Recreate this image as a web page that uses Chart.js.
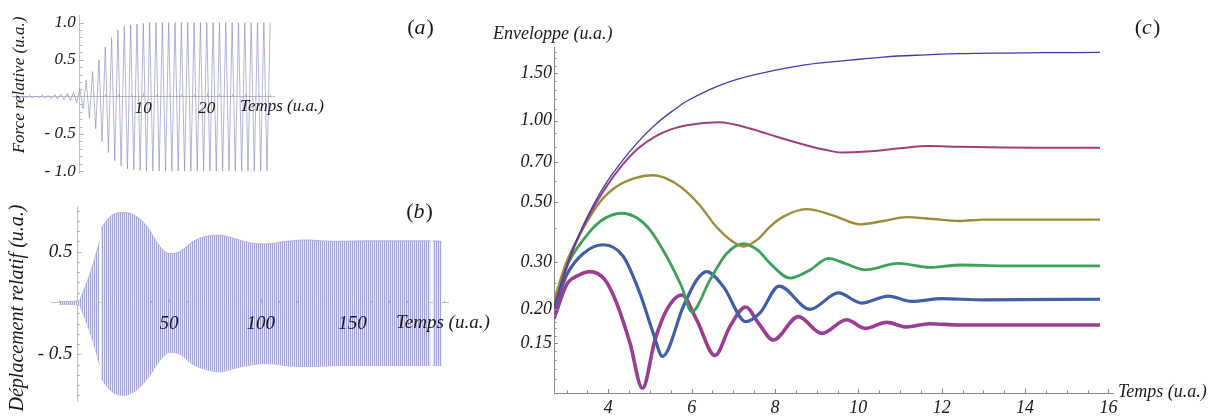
<!DOCTYPE html>
<html>
<head>
<meta charset="utf-8">
<script src="https://cdn.jsdelivr.net/npm/chart.js@4.4.1/dist/chart.umd.min.js"></script>
<style>
  html, body { margin: 0; padding: 0; background: #fff; }
  body { width: 1222px; height: 418px; position: relative; overflow: hidden; }
  canvas { position: absolute; }
  #forceChart { left: 0; top: 0; }
  #dispChart { left: 0; top: 190px; }
  #envChart { left: 470px; top: 0; }
</style>
</head>
<body>
<canvas id="forceChart" width="460" height="190"></canvas>
<canvas id="dispChart" width="520" height="228"></canvas>
<canvas id="envChart" width="752" height="418"></canvas>
<script>
// (a) force relative: successive peaks of the drive, one every half period
const forceT = [-10.5, -10, -9.5, -9, -8.5, -8, -7.5, -7, -6.5, -6, -5.5, -5, -4.5, -4, -3.5, -3, -2.5, -2, -1.5, -1,
  -0.5, 0, 0.5, 1, 1.5, 2, 2.5, 3, 3.5, 4, 4.5, 5, 5.5, 6, 6.5, 7, 7.5, 8, 8.5, 9, 9.5, 10,
  10.5, 11, 11.5, 12, 12.5, 13, 13.5, 14, 14.5, 15, 15.5, 16, 16.5, 17, 17.5, 18, 18.5, 19, 19.5, 20,
  20.5, 21, 21.5, 22, 22.5, 23, 23.5, 24, 24.5, 25, 25.5, 26, 26.5, 27, 27.5, 28, 28.5, 29, 29.5, 30];
const forceV = [-0.005, 0.005, -0.006, 0.006, -0.007, 0.008, -0.009, 0.01, -0.012, 0.014, -0.016, 0.02, -0.022, 0.025, -0.03, 0.035, -0.04, 0.045, -0.05, 0.06,
  -0.08, 0.11, -0.16, 0.22, -0.29, 0.34, -0.43, 0.50, -0.60, 0.67, -0.75, 0.80, -0.86, 0.90, -0.93, 0.95, -0.97, 0.97, -0.98, 0.98, -0.99, 0.99,
  -1, 1, -1, 1, -1, 1, -1, 1, -1, 1, -1, 1, -1, 1, -1, 1, -1, 1, -1, 1,
  -1, 1, -1, 1, -1, 1, -1, 1, -1, 1, -1, 1, -1, 1, -1, 1, -1, 1, -1, 1];
const forceXTicks = [10, 20];
const forceYTicks = [-1, -0.5, 0.5, 1];

// (b) déplacement relatif: envelope of the dense oscillation (null = thin white gap)
const dispT = [-9.9, -5, 0.4, 4.1, 8.6, 12.1, 12.5, 12.9, 15.9, 19.5, 25, 30.4, 37.7, 45, 50.5, 55.9, 63.2, 70.5, 77.7, 85, 95.9, 103.2, 114, 125, 139.6, 157.7, 175.9, 192.6, 193.2, 193.8, 198.7];
const dispUpper = [0.015, 0.015, 0.02, 0.15, 0.38, 0.60, null, 0.72, 0.80, 0.86, 0.88, 0.86, 0.75, 0.55, 0.48, 0.50, 0.60, 0.65, 0.66, 0.63, 0.58, 0.575, 0.60, 0.614, 0.60, 0.605, 0.605, 0.605, null, 0.605, 0.60];
const dispLower = [-0.015, -0.015, -0.02, -0.15, -0.38, -0.60, null, -0.73, -0.81, -0.87, -0.90, -0.87, -0.75, -0.56, -0.48, -0.50, -0.60, -0.65, -0.67, -0.64, -0.60, -0.59, -0.61, -0.62, -0.61, -0.61, -0.61, -0.61, null, -0.61, -0.61];
const dispXTicks = [50, 100, 150];
const dispYTicks = [-0.5, 0.5];

// (c) enveloppes, one curve per setting
const env1T = [2.7, 3.0, 3.2, 3.52, 3.92, 4.32, 4.72, 5.12, 5.52, 5.92, 6.72, 7.52, 8.72, 9.8, 10.6, 11.5, 12.4, 13.5, 14.5, 15.8];
const env1V = [0.205, 0.29, 0.35, 0.448, 0.578, 0.705, 0.836, 0.964, 1.08, 1.19, 1.36, 1.48, 1.61, 1.675, 1.72, 1.75, 1.77, 1.78, 1.785, 1.79];
const env2T = [2.7, 3.0, 3.2, 3.52, 3.92, 4.32, 4.72, 5.12, 5.52, 5.92, 6.64, 7.52, 8.0, 8.72, 9.2, 9.6, 10.2, 11.0, 11.7, 12.4, 13.5, 14.5, 15.8];
const env2V = [0.20, 0.285, 0.345, 0.44, 0.56, 0.68, 0.79, 0.873, 0.93, 0.964, 0.986, 0.924, 0.875, 0.813, 0.78, 0.762, 0.768, 0.79, 0.805, 0.80, 0.795, 0.794, 0.794];
const env3T = [2.7, 3.0, 3.4, 3.8, 4.2, 4.6, 5.08, 5.4, 5.76, 6.2, 6.56, 7.0, 7.25, 7.6, 7.88, 8.2, 8.76, 9.4, 10.04, 10.6, 11.16, 11.8, 12.44, 13.0, 14.0, 15.8];
const env3V = [0.217, 0.30, 0.40, 0.50, 0.57, 0.61, 0.628, 0.61, 0.565, 0.485, 0.41, 0.355, 0.342, 0.365, 0.405, 0.441, 0.470, 0.445, 0.413, 0.425, 0.439, 0.432, 0.425, 0.430, 0.430, 0.430];
const env4T = [2.7, 3.0, 3.4, 3.8, 4.32, 4.7, 5.0, 5.4, 5.76, 6.0, 6.44, 6.84, 7.25, 7.6, 7.88, 8.36, 8.84, 9.28, 9.7, 10.16, 10.96, 11.72, 12.44, 13.5, 15.8];
const env4V = [0.211, 0.288, 0.362, 0.423, 0.454, 0.435, 0.394, 0.314, 0.243, 0.196, 0.257, 0.322, 0.350, 0.330, 0.296, 0.261, 0.280, 0.309, 0.295, 0.280, 0.296, 0.286, 0.292, 0.290, 0.290];
const env5T = [2.7, 3.0, 3.4, 3.88, 4.36, 4.76, 5.08, 5.3, 5.8, 6.12, 6.36, 6.76, 7.3, 7.64, 8.1, 8.84, 9.52, 10.08, 10.72, 11.28, 12.0, 13.0, 15.8];
const env5V = [0.199, 0.268, 0.322, 0.347, 0.314, 0.229, 0.163, 0.134, 0.205, 0.257, 0.276, 0.243, 0.180, 0.194, 0.244, 0.200, 0.230, 0.211, 0.224, 0.214, 0.219, 0.217, 0.218];
const env6T = [2.7, 3.0, 3.3, 3.56, 3.92, 4.2, 4.52, 4.82, 5.12, 5.4, 5.76, 6.12, 6.56, 6.92, 7.3, 7.6, 7.96, 8.56, 9.12, 9.72, 10.16, 10.68, 11.16, 11.7, 12.44, 13.5, 15.8];
const env6V = [0.185, 0.247, 0.268, 0.276, 0.257, 0.211, 0.150, 0.102, 0.154, 0.199, 0.226, 0.183, 0.135, 0.173, 0.204, 0.178, 0.154, 0.188, 0.163, 0.183, 0.170, 0.179, 0.172, 0.177, 0.175, 0.175, 0.175];
const envXTicks = [4, 6, 8, 10, 12, 14, 16];
const envYTicks = [0.15, 0.2, 0.3, 0.5, 0.7, 1.0, 1.5];
const envYMinor = [0.11, 0.12, 0.13, 0.14, 0.16, 0.17, 0.18, 0.19, 0.25, 0.4, 0.6, 0.8, 0.9, 1.1, 1.2, 1.3, 1.4, 1.6, 1.7, 1.8];

const SERIF = "'Liberation Serif', 'Times New Roman', serif";
const tickFont = size => ({ family: SERIF, size: size, style: 'italic' });
const pts = (xs, ys) => xs.map((x, i) => ({ x: x, y: ys[i] }));
const range = (a, b, step, skip) => {
  const out = [];
  for (let v = a; v <= b + 1e-9; v += step) {
    const r = Math.round(v * 1000) / 1000;
    if (!skip.some(s => Math.abs(s - r) < 1e-6)) out.push(r);
  }
  return out;
};

// small inward tick marks, Mathematica style
const tickMarks = {
  id: 'tickMarks',
  afterDatasetsDraw(chart, args, opts) {
    const { x, y } = chart.scales;
    const ctx = chart.ctx;
    const x0 = opts.centered ? x.getPixelForValue(0) : chart.chartArea.left;
    const y0 = opts.centered ? y.getPixelForValue(0) : chart.chartArea.bottom;
    ctx.save();
    ctx.strokeStyle = opts.color;
    ctx.lineWidth = 1;
    ctx.beginPath();
    const vx = (list, len) => list.forEach(v => {
      const px = Math.round(x.getPixelForValue(v)) + 0.5;
      ctx.moveTo(px, y0); ctx.lineTo(px, y0 - len);
    });
    const vy = (list, len) => list.forEach(v => {
      const py = Math.round(y.getPixelForValue(v)) + 0.5;
      ctx.moveTo(x0, py); ctx.lineTo(x0 + len, py);
    });
    vx(opts.xMajor, 4); vx(opts.xMinor, 2.5);
    vy(opts.yMajor, 4); vy(opts.yMinor, 2.5);
    ctx.stroke();
    ctx.restore();
  }
};

// axis titles and panel letters
const panelText = {
  id: 'panelText',
  afterDraw(chart, args, opts) {
    const ctx = chart.ctx;
    (opts.items || []).forEach(it => {
      ctx.save();
      ctx.fillStyle = '#1a1a1a';
      ctx.textBaseline = 'middle';
      ctx.translate(it.x, it.y);
      if (it.rotate) ctx.rotate(it.rotate);
      if (it.letter) {
        const up = it.size + 'px ' + SERIF;
        const it2 = 'italic ' + it.size + 'px ' + SERIF;
        ctx.font = up; const wp = ctx.measureText('(').width;
        ctx.font = it2; const wl = ctx.measureText(it.letter).width;
        let cx = -(2 * wp + wl) / 2;
        ctx.textAlign = 'left';
        ctx.font = up; ctx.fillText('(', cx, 0); cx += wp;
        ctx.font = it2; ctx.fillText(it.letter, cx, 0); cx += wl + 1;
        ctx.font = up; ctx.fillText(')', cx, 0);
      } else {
        ctx.font = 'italic ' + it.size + 'px ' + SERIF;
        ctx.textAlign = it.align || 'left';
        ctx.fillText(it.text, 0, 0);
      }
      ctx.restore();
    });
  }
};

const baseOpts = {
  responsive: false,
  animation: false,
  events: []
};
const signedLabel = v => (v < 0 ? '- ' + Math.abs(v).toFixed(1) : v.toFixed(1)) + ' ';

// ---------- (a) ----------
new Chart(document.getElementById('forceChart'), {
  type: 'line',
  data: {
    datasets: [{
      data: pts(forceT, forceV),
      borderColor: 'rgba(130,130,195,0.6)',
      borderWidth: 1,
      pointRadius: 0,
      tension: 0
    }]
  },
  options: {
    ...baseOpts,
    layout: { padding: { left: 12, right: 186, top: 7, bottom: 17 } },
    plugins: {
      legend: { display: false },
      tooltip: { enabled: false },
      tickMarks: { centered: true, color: '#b5b5b5', xMajor: forceXTicks, xMinor: [-10, -8, -6, -4, -2, 2, 4, 6, 8, 12, 14, 16, 18, 22, 24, 26, 28, 30],
        yMajor: forceYTicks, yMinor: range(-1, 1, 0.1, [-1, -0.5, 0, 0.5, 1]) },
      panelText: { items: [
        { text: 'Force relative (u.a.)', x: 20, y: 85, size: 17, rotate: -Math.PI / 2, align: 'center' },
        { text: 'Temps (u.a.)', x: 240, y: 107, size: 17 },
        { letter: 'a', x: 420, y: 28, size: 22 }
      ] }
    },
    scales: {
      x: {
        type: 'linear', min: -10.7, max: 30.6, position: { y: 0 },
        afterBuildTicks: s => { s.ticks = forceXTicks.map(v => ({ value: v })); },
        afterFit: s => { s.height = 0; },
        grid: { drawOnChartArea: false, drawTicks: false },
        border: { color: '#c0c0c0' },
        ticks: { z: 1, font: tickFont(17), color: '#1a1a1a', padding: 1, maxRotation: 0, autoSkip: false, callback: v => String(v) }
      },
      y: {
        type: 'linear', min: -1.026, max: 1.10, position: { x: 0 },
        afterBuildTicks: s => { s.ticks = forceYTicks.map(v => ({ value: v })); },
        afterFit: s => { s.width = 0; },
        grid: { drawOnChartArea: false, drawTicks: false },
        border: { color: '#c0c0c0' },
        ticks: { z: 1, font: tickFont(17), color: '#1a1a1a', padding: 5, autoSkip: false, callback: signedLabel }
      }
    }
  },
  plugins: [tickMarks, panelText]
});

// ---------- (b) ----------
const stripe = document.createElement('canvas');
stripe.width = 2; stripe.height = 1;
const sctx = stripe.getContext('2d');
sctx.fillStyle = '#a2a2d3'; sctx.fillRect(0, 0, 1, 1);
sctx.fillStyle = '#e8e8f4'; sctx.fillRect(1, 0, 1, 1);
const bandFill = document.getElementById('dispChart').getContext('2d').createPattern(stripe, 'repeat');

new Chart(document.getElementById('dispChart'), {
  type: 'line',
  data: {
    datasets: [
      { data: pts(dispT, dispUpper), fill: '+1', backgroundColor: bandFill, borderColor: 'rgba(160,160,210,0.7)', borderWidth: 1, pointRadius: 0, cubicInterpolationMode: 'monotone', spanGaps: false },
      { data: pts(dispT, dispLower), fill: false, borderColor: 'rgba(160,160,210,0.7)', borderWidth: 1, pointRadius: 0, cubicInterpolationMode: 'monotone', spanGaps: false }
    ]
  },
  options: {
    ...baseOpts,
    layout: { padding: { left: 51.7, right: 71.7, top: 13.3, bottom: 1.3 } },
    plugins: {
      legend: { display: false },
      tooltip: { enabled: false },
      tickMarks: { centered: true, color: '#b5b5b5', xMajor: dispXTicks, xMinor: [-10, 10, 20, 30, 40, 60, 70, 80, 90, 110, 120, 130, 140, 160, 170, 180, 190, 200],
        yMajor: dispYTicks, yMinor: range(-0.9, 0.9, 0.1, [-0.5, 0, 0.5]) },
      panelText: { items: [
        { text: 'Déplacement relatif (u.a.)', x: 18, y: 118, size: 20, rotate: -Math.PI / 2, align: 'center' },
        { text: 'Temps (u.a.)', x: 396, y: 133, size: 19 },
        { letter: 'b', x: 419, y: 22, size: 22 }
      ] }
    },
    scales: {
      x: {
        type: 'linear', min: -14, max: 202.3, position: { y: 0 },
        afterBuildTicks: s => { s.ticks = dispXTicks.map(v => ({ value: v })); },
        afterFit: s => { s.height = 0; },
        grid: { drawOnChartArea: false, drawTicks: false },
        border: { color: '#c0c0c0' },
        ticks: { z: 1, font: tickFont(19), color: '#1a1a1a', padding: 10, maxRotation: 0, autoSkip: false, callback: v => String(v) }
      },
      y: {
        type: 'linear', min: -0.96, max: 0.94, position: { x: 0 },
        afterBuildTicks: s => { s.ticks = dispYTicks.map(v => ({ value: v })); },
        afterFit: s => { s.width = 0; },
        grid: { drawOnChartArea: false, drawTicks: false },
        border: { color: '#c0c0c0' },
        ticks: { z: 1, font: tickFont(19), color: '#1a1a1a', padding: 5, autoSkip: false, callback: signedLabel }
      }
    }
  },
  plugins: [tickMarks, panelText]
});

// ---------- (c) ----------
const envCurves = [
  { t: env1T, v: env1V, color: '#3e3eae', width: 1.3, smooth: true },
  { t: env2T, v: env2V, color: '#a23d7c', width: 2, smooth: false },
  { t: env3T, v: env3V, color: '#9c8c3a', width: 2.4, smooth: false },
  { t: env4T, v: env4V, color: '#3fa05a', width: 2.8, smooth: false },
  { t: env5T, v: env5V, color: '#3f60a6', width: 3.2, smooth: false },
  { t: env6T, v: env6V, color: '#9b3d95', width: 3.6, smooth: false }
];

new Chart(document.getElementById('envChart'), {
  type: 'line',
  data: {
    datasets: envCurves.map(c => ({
      data: pts(c.t, c.v),
      borderColor: c.color,
      borderWidth: c.width,
      pointRadius: 0,
      cubicInterpolationMode: c.smooth ? 'default' : 'monotone',
      tension: 0.4,
      fill: false
    }))
  },
  options: {
    ...baseOpts,
    layout: { padding: { left: 0, right: 109, top: 47, bottom: 0 } },
    plugins: {
      legend: { display: false },
      tooltip: { enabled: false },
      tickMarks: { centered: false, color: '#888', xMajor: envXTicks, xMinor: range(3, 16, 0.5, envXTicks),
        yMajor: envYTicks, yMinor: envYMinor },
      panelText: { items: [
        { text: 'Enveloppe (u.a.)', x: 23, y: 34, size: 18 },
        { text: 'Temps (u.a.)', x: 648, y: 392, size: 18 },
        { letter: 'c', x: 677, y: 28, size: 22 }
      ] }
    },
    scales: {
      x: {
        type: 'linear', min: 2.697, max: 16.11, position: 'bottom',
        afterBuildTicks: s => { s.ticks = envXTicks.map(v => ({ value: v })); },
        afterFit: s => { s.height = 25; },
        grid: { drawOnChartArea: false, drawTicks: false },
        border: { color: '#8a8a8a' },
        ticks: { font: tickFont(18), color: '#1a1a1a', padding: 4, maxRotation: 0, autoSkip: false, callback: v => String(v) }
      },
      y: {
        type: 'logarithmic', min: 0.098, max: 1.874, position: 'left',
        afterBuildTicks: s => { s.ticks = envYTicks.map(v => ({ value: v })); },
        afterFit: s => { s.width = 84; },
        grid: { drawOnChartArea: false, drawTicks: false },
        border: { color: '#8a8a8a' },
        ticks: { font: tickFont(18), color: '#1a1a1a', padding: 2, autoSkip: false, callback: v => Number(v).toFixed(2) }
      }
    }
  },
  plugins: [tickMarks, panelText]
});
</script>
</body>
</html>
